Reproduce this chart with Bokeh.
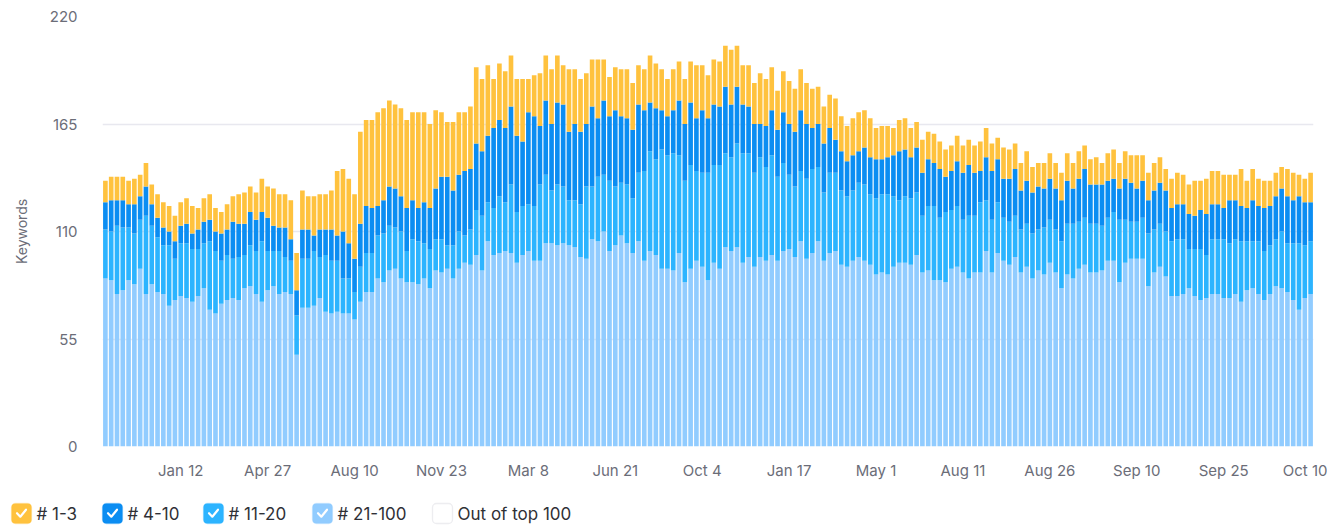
from bokeh.plotting import figure
from bokeh.models import ColumnDataSource, FixedTicker, Range1d, BoxAnnotation
from bokeh.layouts import column, row
from bokeh.embed import file_html
from bokeh.resources import INLINE
from bokeh.core.properties import value

# ---------------- data ----------------
pos_21_100 = [
    86, 85, 78, 80, 85, 83, 91, 78, 83, 79,
    78, 72, 75, 77, 76, 74, 77, 81, 70, 68,
    73, 75, 76, 75, 81, 82, 78, 74, 80, 82,
    78, 79, 78, 47, 71, 71, 72, 76, 69, 68,
    69, 68, 68, 65, 74, 79, 79, 86, 84, 90,
    91, 86, 84, 84, 83, 86, 81, 90, 89, 91,
    86, 91, 94, 93, 98, 90, 105, 98, 99, 100,
    99, 94, 98, 100, 95, 95, 104, 104, 103, 104,
    103, 102, 97, 96, 106, 105, 110, 100, 103, 108,
    104, 99, 105, 95, 100, 98, 91, 91, 90, 99,
    84, 91, 95, 92, 85, 94, 91, 102, 100, 102,
    94, 97, 92, 97, 95, 98, 95, 100, 101, 97,
    105, 96, 99, 105, 95, 99, 100, 93, 92, 95,
    97, 95, 93, 88, 89, 88, 92, 94, 94, 93,
    98, 89, 90, 85, 85, 84, 91, 92, 89, 86,
    89, 89, 100, 89, 99, 95, 93, 97, 89, 92,
    86, 90, 88, 94, 89, 81, 88, 86, 91, 93,
    89, 89, 90, 95, 95, 84, 94, 96, 96, 96,
    82, 89, 92, 87, 77, 77, 78, 81, 77, 75,
    76, 78, 78, 76, 76, 78, 74, 80, 81, 78,
    75, 78, 82, 81, 79, 75, 70, 76, 78,
]
pos_11_20 = [
    25, 25, 35, 32, 27, 26, 25, 40, 30, 28,
    25, 31, 21, 27, 28, 27, 24, 23, 35, 32,
    22, 23, 20, 22, 17, 21, 22, 31, 20, 18,
    22, 18, 17, 20, 25, 25, 28, 21, 29, 27,
    26, 18, 18, 14, 18, 20, 20, 22, 25, 23,
    21, 24, 16, 22, 22, 18, 20, 16, 17, 12,
    17, 19, 14, 18, 23, 28, 20, 24, 29, 25,
    35, 26, 25, 24, 28, 39, 35, 27, 31, 29,
    23, 24, 27, 37, 27, 33, 29, 36, 30, 27,
    30, 28, 35, 46, 51, 49, 61, 58, 60, 50,
    52, 53, 46, 48, 55, 50, 53, 48, 48, 53,
    56, 53, 48, 51, 48, 51, 43, 45, 38, 36,
    36, 41, 43, 38, 35, 41, 40, 38, 36, 36,
    38, 39, 36, 39, 40, 41, 36, 32, 34, 34,
    32, 29, 33, 38, 32, 36, 30, 31, 27, 32,
    29, 36, 26, 27, 26, 22, 22, 21, 22, 22,
    23, 21, 24, 22, 22, 24, 26, 28, 24, 24,
    25, 25, 23, 22, 25, 32, 22, 19, 19, 21,
    27, 22, 22, 23, 28, 29, 28, 20, 24, 26,
    22, 28, 28, 30, 28, 28, 31, 25, 24, 27,
    25, 25, 24, 29, 25, 29, 34, 27, 27,
]
pos_4_10 = [
    14, 16, 13, 14, 12, 15, 12, 15, 11, 10,
    9, 7, 9, 9, 10, 8, 10, 11, 11, 10,
    14, 13, 19, 17, 16, 17, 16, 15, 17, 13,
    12, 15, 11, 13, 15, 15, 8, 14, 13, 16,
    13, 24, 18, 17, 22, 24, 23, 15, 17, 20,
    20, 18, 22, 20, 17, 21, 21, 26, 32, 35,
    28, 29, 33, 31, 34, 33, 34, 41, 39, 38,
    40, 39, 33, 47, 46, 30, 38, 34, 42, 42,
    35, 39, 37, 32, 41, 30, 38, 33, 39, 34,
    34, 35, 35, 31, 25, 26, 20, 20, 22, 28,
    29, 32, 27, 32, 28, 31, 30, 34, 27, 29,
    25, 24, 25, 17, 21, 23, 24, 26, 26, 28,
    31, 28, 21, 22, 25, 23, 17, 20, 18, 18,
    16, 19, 19, 20, 18, 19, 21, 25, 24, 21,
    23, 22, 24, 22, 25, 18, 20, 23, 24, 26,
    22, 16, 22, 25, 22, 20, 22, 24, 20, 22,
    21, 22, 20, 21, 21, 21, 22, 18, 22, 25,
    20, 20, 21, 19, 17, 16, 21, 20, 17, 19,
    17, 20, 21, 21, 17, 18, 18, 18, 17, 20,
    21, 18, 18, 16, 22, 20, 18, 17, 21, 18,
    22, 20, 22, 22, 24, 22, 24, 22, 20,
]
pos_1_3 = [
    11, 12, 12, 12, 12, 13, 11, 12, 10, 12,
    13, 13, 13, 12, 13, 14, 11, 12, 13, 12,
    11, 13, 13, 15, 16, 13, 14, 17, 16, 19,
    17, 17, 20, 19, 20, 17, 20, 18, 18, 20,
    33, 32, 33, 33, 47, 44, 45, 48, 47, 44,
    43, 45, 45, 45, 49, 46, 43, 40, 33, 28,
    35, 32, 30, 32, 39, 37, 36, 25, 29, 29,
    26, 29, 32, 17, 21, 27, 23, 28, 24, 20,
    32, 28, 27, 26, 24, 30, 21, 20, 22, 24,
    25, 24, 20, 21, 24, 23, 21, 19, 21, 20,
    23, 21, 27, 23, 22, 23, 23, 21, 28, 21,
    20, 21, 21, 26, 24, 22, 20, 21, 22, 22,
    21, 21, 20, 19, 19, 17, 21, 18, 18, 19,
    20, 19, 20, 16, 17, 16, 14, 16, 16, 15,
    13, 17, 14, 15, 14, 14, 13, 13, 14, 13,
    14, 15, 15, 14, 11, 16, 15, 13, 14, 15,
    13, 12, 13, 13, 13, 14, 14, 13, 14, 12,
    13, 14, 11, 14, 15, 13, 14, 14, 17, 13,
    14, 14, 13, 11, 15, 16, 15, 15, 18, 15,
    18, 17, 17, 17, 13, 13, 19, 14, 16, 14,
    14, 13, 12, 11, 14, 14, 11, 12, 15,
]

tick_labels = ["Jan 12", "Apr 27", "Aug 10", "Nov 23", "Mar 8", "Jun 21", "Oct 4",
               "Jan 17", "May 1", "Aug 11", "Aug 26", "Sep 10", "Sep 25", "Oct 10"]
tick_first, tick_step = 13, 15
y_ticks = [0, 55, 110, 165, 220]

series_names = ["# 1-3", "# 4-10", "# 11-20", "# 21-100", "Out of top 100"]
series_colors = ["#FFC23E", "#0B8DF2", "#2CB4FF", "#91CCFF", "#FFFFFF"]

FONT = "Inter"
AXIS_TEXT = "#6b6d78"

# ---------------- main chart ----------------
n = len(pos_1_3)
src = ColumnDataSource(dict(x=list(range(n)), a=pos_21_100, b=pos_11_20, c=pos_4_10, d=pos_1_3))

W = 1327
BL, BR = 102, 14
p = figure(width=W, height=488, output_backend="svg", toolbar_location=None,
           x_range=Range1d(-0.5, n - 0.5), y_range=Range1d(0, 220),
           min_border_left=BL, min_border_right=BR, min_border_top=16, min_border_bottom=42)
p.vbar_stack(["a", "b", "c", "d"], x="x", width=0.8, source=src,
             color=[series_colors[3], series_colors[2], series_colors[1], series_colors[0]],
             line_color=None)

p.outline_line_color = None
p.xgrid.visible = False
p.ygrid.grid_line_color = "#e8e8ef"
p.ygrid.grid_line_width = 1.5
p.ygrid.ticker = FixedTicker(ticks=y_ticks)

tick_pos = [tick_first + tick_step * k for k in range(len(tick_labels))]
xa = p.xaxis[0]
xa.ticker = FixedTicker(ticks=tick_pos)
xa.major_label_overrides = {t: lab for t, lab in zip(tick_pos, tick_labels)}
xa.axis_line_color = None
xa.major_tick_line_color = None
xa.minor_tick_line_color = None
xa.major_label_standoff = 8
xa.major_label_text_font = FONT
xa.major_label_text_font_size = "15px"
xa.major_label_text_color = AXIS_TEXT

ya = p.yaxis[0]
ya.ticker = FixedTicker(ticks=y_ticks)
ya.axis_line_color = None
ya.major_tick_line_color = None
ya.minor_tick_line_color = None
ya.major_label_standoff = 19
ya.major_label_text_font = FONT
ya.major_label_text_font_size = "15px"
ya.major_label_text_color = AXIS_TEXT
ya.axis_label = "Keywords"
ya.axis_label_text_font = FONT
ya.axis_label_text_font_size = "14px"
ya.axis_label_text_font_style = "normal"
ya.axis_label_text_color = AXIS_TEXT
ya.axis_label_standoff = 17

# ---------------- legend strip ----------------
LH = 39
lg = figure(width=W, height=LH, output_backend="svg", toolbar_location=None,
            x_range=Range1d(0, W), y_range=Range1d(0, LH),
            x_axis_location=None, y_axis_location=None, min_border=0)
lg.outline_line_color = None
lg.xgrid.visible = False
lg.ygrid.visible = False

box_left = [11, 102, 203, 312, 432]
box_size = 20
cy = 14
for i, (name, col) in enumerate(zip(series_names, series_colors)):
    l = box_left[i]
    unchecked = (i == 4)
    lg.add_layout(BoxAnnotation(left=l, right=l + box_size, bottom=cy - box_size / 2, top=cy + box_size / 2,
                                fill_color=col, fill_alpha=1.0,
                                line_color="#c3c5ce" if unchecked else col, line_width=1.3,
                                border_radius=4, level="underlay"))
    if not unchecked:
        cx = l + box_size / 2
        lg.line([cx - 4.5, cx - 1.2, cx + 4.5], [cy + 0.3, cy - 3.2, cy + 3.8],
                line_color="white", line_width=2.2, line_cap="round", line_join="round",
                level="overlay")
lg.text(x=[b + box_size + 5 for b in box_left], y=[cy] * 5, text=series_names,
        text_baseline="middle", text_align="left", text_font=value(FONT),
        text_font_size="17px", text_color="#2f3036")

# nest the legend strip in its own row so its frame is not aligned with the chart frame
layout = column(p, row(lg, spacing=0), spacing=0)
open("out.html", "w").write(file_html(layout, INLINE))
